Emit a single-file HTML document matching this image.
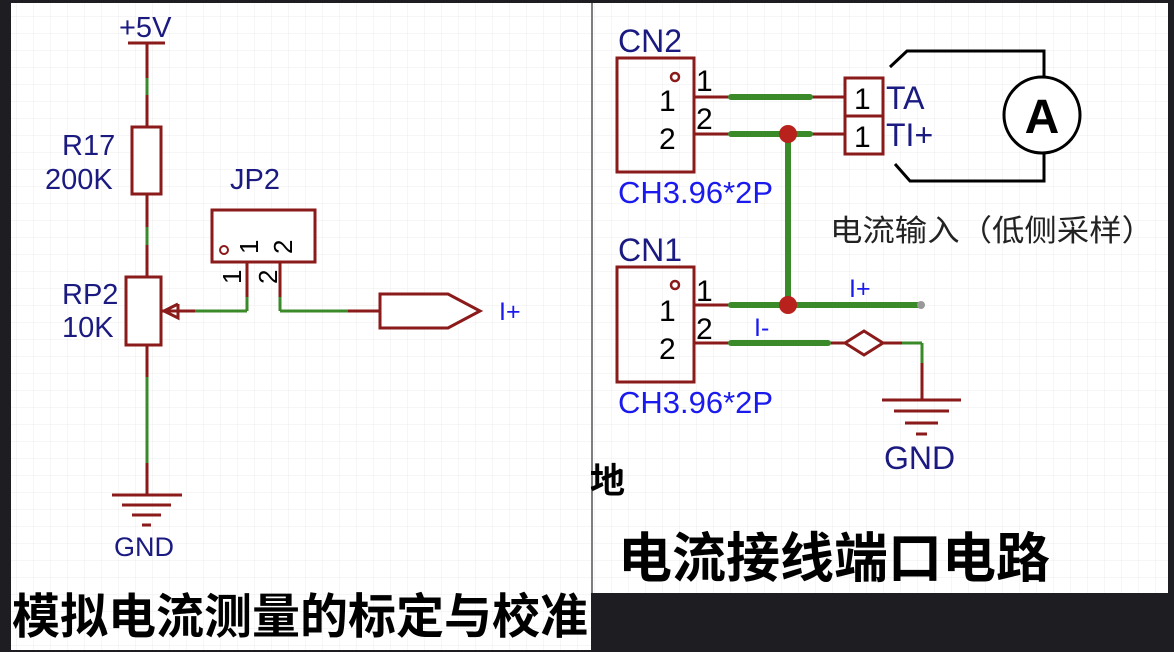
<!DOCTYPE html>
<html><head><meta charset="utf-8"><style>
html,body{margin:0;padding:0;background:#1e1e22;}
body{width:1174px;height:652px;position:relative;overflow:hidden;}
svg{position:absolute;left:0;top:0;}
text{font-family:"Liberation Sans","Noto Sans CJK SC",sans-serif;}
</style></head><body>
<svg width="1174" height="652" viewBox="0 0 1174 652">
<defs>
<pattern id="g" width="17" height="17" patternUnits="userSpaceOnUse">
<path d="M17 0V17M0 17H17" stroke="#ececec" stroke-width="1" fill="none"/>
</pattern>
</defs>
<rect x="0" y="0" width="1174" height="652" fill="#1e1e22"/>
<rect x="11" y="3" width="580" height="647" fill="#fff"/>
<rect x="11" y="3" width="580" height="647" fill="url(#g)"/>
<rect x="593" y="3" width="575" height="590" fill="#fff"/>
<rect x="593" y="3" width="575" height="590" fill="url(#g)"/>
<line x1="592" y1="3" x2="592" y2="593" stroke="#ddd"/>

<g stroke="#8b1a1a" stroke-width="3" fill="none">
<line x1="128" y1="43" x2="165" y2="43"/>
<line x1="147" y1="43" x2="147" y2="127"/>
<rect x="132" y="127" width="29" height="67" fill="#fff"/>
<line x1="147" y1="194" x2="147" y2="277"/>
<rect x="126" y="277" width="35" height="68" fill="#fff"/>
<line x1="161" y1="311" x2="195" y2="311"/>
<polyline points="178,304 164,311 178,318 178,304"/>
<rect x="212" y="210" width="103" height="52" fill="#fff"/>
<line x1="247" y1="262" x2="247" y2="311"/>
<line x1="280" y1="262" x2="280" y2="311"/>
<line x1="348" y1="311" x2="380" y2="311"/>
<polygon points="380,294 448,294 480,311 448,328 380,328" fill="#fff"/>
<line x1="147" y1="345" x2="147" y2="495"/>
<line x1="112" y1="495" x2="182" y2="495"/>
<line x1="122" y1="505" x2="171" y2="505"/>
<line x1="132" y1="515" x2="161" y2="515"/>
<line x1="142" y1="525" x2="151" y2="525"/>
</g>
<circle cx="224" cy="250" r="4" stroke="#8b1a1a" stroke-width="2" fill="none"/>
<g stroke="#3a8a2a" stroke-width="3">
<line x1="147" y1="78" x2="147" y2="95"/>
<line x1="147" y1="227" x2="147" y2="245"/>
<line x1="195" y1="311" x2="247" y2="311"/>
<line x1="247" y1="297" x2="247" y2="311"/>
<line x1="280" y1="297" x2="280" y2="311"/>
<line x1="280" y1="311" x2="348" y2="311"/>
<line x1="147" y1="377" x2="147" y2="463"/>
</g>
<g fill="#1a1a80" font-size="29">
<text x="119" y="37">+5V</text>
<text x="62" y="155">R17</text>
<text x="45" y="189">200K</text>
<text x="230" y="189">JP2</text>
<text x="62" y="304">RP2</text>
<text x="62" y="337">10K</text>
<text x="114" y="556" font-size="27">GND</text>
</g>
<g fill="#000" font-size="26">
<text transform="translate(258,254) rotate(-90)">1</text>
<text transform="translate(292,254) rotate(-90)">2</text>
<text transform="translate(241,284) rotate(-90)">1</text>
<text transform="translate(277,284) rotate(-90)">2</text>
</g>
<text x="499" y="320" fill="#1a1aee" font-size="25">I+</text>
<text x="12" y="633" font-size="48" font-weight="bold" fill="#000" font-family="'Noto Sans CJK SC',sans-serif">模拟电流测量的标定与校准</text>

<!-- right -->
<g stroke="#8b1a1a" stroke-width="3" fill="none">
<rect x="617" y="58" width="77" height="114"/>
<rect x="617" y="267" width="77" height="115"/>
<line x1="694" y1="97" x2="845" y2="97"/>
<line x1="694" y1="134" x2="845" y2="134"/>
<line x1="694" y1="305" x2="731" y2="305"/>
<line x1="694" y1="343" x2="845" y2="343"/>
<rect x="845" y="78" width="38" height="76" fill="#fff"/>
<line x1="845" y1="116" x2="883" y2="116"/>
<polygon points="845,343 864,331 883,343 864,355" fill="#fff"/>
<line x1="883" y1="343" x2="922" y2="343"/>
<line x1="922" y1="343" x2="922" y2="400"/>
<line x1="882" y1="400" x2="961" y2="400"/>
<line x1="894" y1="411" x2="949" y2="411"/>
<line x1="905" y1="423" x2="938" y2="423"/>
<line x1="916" y1="434" x2="927" y2="434"/>
</g>
<circle cx="675" cy="77" r="4" stroke="#8b1a1a" stroke-width="2.5" fill="none"/>
<circle cx="675" cy="285" r="4" stroke="#8b1a1a" stroke-width="2.5" fill="none"/>
<g stroke="#3a8a2a" stroke-width="6" stroke-linecap="round">
<line x1="731" y1="97" x2="810" y2="97"/>
<line x1="731" y1="134" x2="810" y2="134"/>
<line x1="788" y1="134" x2="788" y2="305"/>
<line x1="731" y1="305" x2="921" y2="305"/>
<line x1="731" y1="343" x2="828" y2="343"/>
</g>
<g stroke="#3a8a2a" stroke-width="3">
<line x1="902" y1="343" x2="922" y2="343"/>
<line x1="922" y1="343" x2="922" y2="363"/>
</g>
<circle cx="788" cy="134" r="9" fill="#b8211c"/>
<circle cx="788" cy="305" r="9" fill="#b8211c"/>
<circle cx="921" cy="305" r="4" fill="#999"/>
<g stroke="#000" stroke-width="3" fill="none">
<polyline points="890,67 907,51 1044,51 1044,77"/>
<polyline points="1044,154 1044,181 910,181 895,164"/>
<circle cx="1042" cy="115" r="38" fill="#fff"/>
</g>
<text x="1042" y="133" text-anchor="middle" font-size="48" font-weight="bold" fill="#000">A</text>
<g fill="#1a1a80" font-size="32">
<text x="618" y="52">CN2</text>
<text x="618" y="261">CN1</text>
<text x="886" y="109">TA</text>
<text x="886" y="146">TI+</text>
<text x="884" y="469">GND</text>
</g>
<g fill="#000" font-size="30">
<text x="659" y="111">1</text>
<text x="659" y="149">2</text>
<text x="696" y="91">1</text>
<text x="696" y="129">2</text>
<text x="659" y="321">1</text>
<text x="659" y="359">2</text>
<text x="696" y="301">1</text>
<text x="696" y="339">2</text>
<text x="854" y="109">1</text>
<text x="854" y="147">1</text>
</g>
<g fill="#1a1aee" font-size="31">
<text x="618" y="203">CH3.96*2P</text>
<text x="618" y="413">CH3.96*2P</text>
<text x="849" y="297" font-size="25">I+</text>
<text x="754" y="336" font-size="25">I-</text>
</g>
<text x="830" y="241" font-size="30" fill="#222" font-family="'Noto Serif CJK SC','Noto Sans CJK SC',serif" textLength="324" lengthAdjust="spacingAndGlyphs">电流输入（低侧采样）</text>
<text x="590" y="493" font-size="35" font-weight="bold" fill="#000" font-family="'Noto Sans CJK SC',sans-serif">地</text>
<text x="618" y="577" font-size="54" font-weight="bold" fill="#000" font-family="'Noto Sans CJK SC',sans-serif">电流接线端口电路</text>
</svg>
</body></html>
